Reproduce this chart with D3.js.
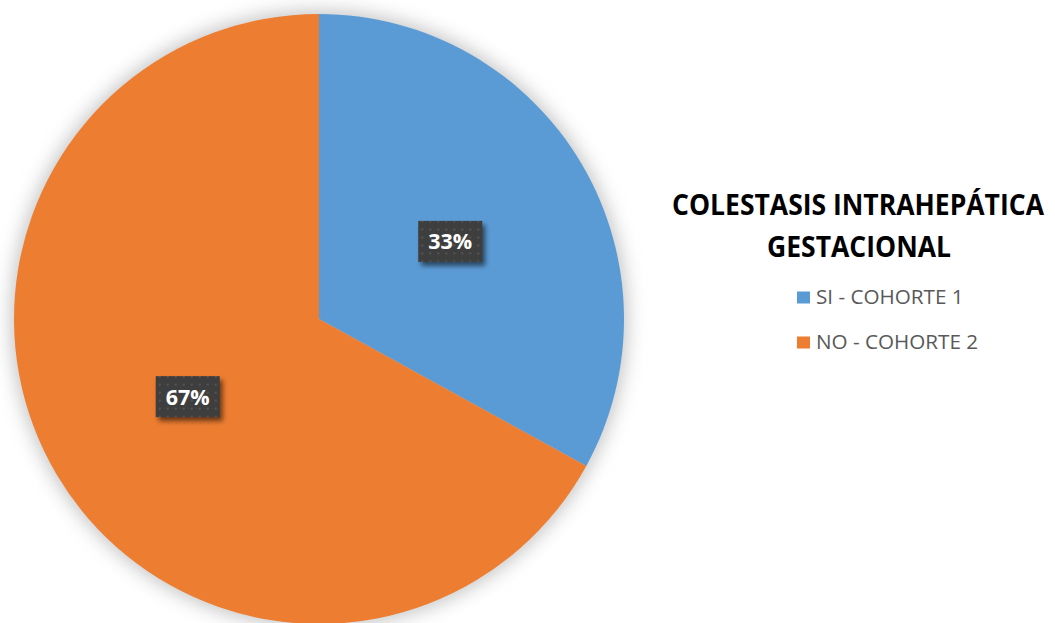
<!DOCTYPE html>
<html>
<head>
<meta charset="utf-8">
<script src="https://cdn.jsdelivr.net/npm/d3@7"></script>
<style>
  html, body { margin: 0; padding: 0; background: #ffffff; }
  svg { display: block; }
</style>
</head>
<body>
<svg id="chart" width="1055" height="623"></svg>
<script>
// Data
const categories = ["SI - COHORTE 1", "NO - COHORTE 2"];
const values = [33, 67];
const colors = ["#5B9BD5", "#ED7D31"];
const titleLines = ["COLESTASIS INTRAHEPÁTICA", "GESTACIONAL"];

const svg = d3.select("#chart");
const cx = 319, cy = 319, R = 305;

const defs = svg.append("defs");

// Soft shadow around the pie
const pieShadow = defs.append("filter").attr("id", "pieShadow")
  .attr("x", "-20%").attr("y", "-20%").attr("width", "140%").attr("height", "140%");
pieShadow.append("feGaussianBlur").attr("in", "SourceGraphic").attr("stdDeviation", 9);

// Shadow for label boxes
const boxShadow = defs.append("filter").attr("id", "boxShadow")
  .attr("x", "-30%").attr("y", "-30%").attr("width", "160%").attr("height", "160%");
boxShadow.append("feGaussianBlur").attr("in", "SourceGraphic").attr("stdDeviation", 2.5);

// Dotted texture for label boxes
const pat = defs.append("pattern").attr("id", "dots")
  .attr("width", 8).attr("height", 8).attr("patternUnits", "userSpaceOnUse");
pat.append("rect").attr("width", 8).attr("height", 8).attr("fill", "#3e3e3e");
pat.append("rect").attr("x", 3).attr("y", 3).attr("width", 2).attr("height", 2).attr("fill", "#545454");

// Pie
const pie = d3.pie().sort(null).value(d => d);
const arcs = pie(values);
const arc = d3.arc().innerRadius(0).outerRadius(R);
const labelArc = d3.arc().innerRadius(R * 0.5).outerRadius(R * 0.5);

const g = svg.append("g").attr("transform", `translate(${cx},${cy})`);

g.append("circle")
  .attr("r", R + 4)
  .attr("fill", "#c8c8c8")
  .attr("filter", "url(#pieShadow)");

g.selectAll("path.slice")
  .data(arcs)
  .join("path")
  .attr("class", "slice")
  .attr("d", arc)
  .attr("fill", (d, i) => colors[i]);

// Data labels
const bw = 64, bh = 41;
const lab = g.selectAll("g.label")
  .data(arcs)
  .join("g")
  .attr("class", "label")
  .attr("transform", d => {
    const [x, y] = labelArc.centroid(d);
    return `translate(${x},${y})`;
  });

lab.append("rect")
  .attr("x", -bw / 2 + 3).attr("y", -bh / 2 + 4)
  .attr("width", bw).attr("height", bh)
  .attr("fill", "rgba(0,0,0,0.55)")
  .attr("filter", "url(#boxShadow)");

lab.append("rect")
  .attr("x", -bw / 2).attr("y", -bh / 2)
  .attr("width", bw).attr("height", bh)
  .attr("fill", "url(#dots)");

lab.append("text")
  .attr("text-anchor", "middle")
  .attr("y", 8)
  .attr("font-family", "'Open Sans', sans-serif")
  .attr("font-weight", "bold")
  .attr("font-size", 21.5)
  .attr("fill", "#ffffff")
  .text(d => d.data + "%");

// Horizontally condense a text so it spans the given width around its anchor
function fitWidth(sel, x, y, width) {
  const len = sel.node().getComputedTextLength();
  sel.attr("x", 0).attr("y", 0)
    .attr("transform", `translate(${x},${y}) scale(${width / len},1)`);
}

// Title
const titleX = 858;
const titleWidths = [372, 184];
const titleBaselines = [215, 257];
titleLines.forEach((line, i) => {
  const t = svg.append("text")
    .attr("text-anchor", "middle")
    .attr("font-family", "'Open Sans', sans-serif")
    .attr("font-weight", "bold")
    .attr("font-size", 28)
    .attr("fill", "#000000")
    .text(line);
  fitWidth(t, titleX + i, titleBaselines[i], titleWidths[i]);
});

// Legend
const legendY = d3.scalePoint().domain(categories).range([304, 349]);
const leg = svg.selectAll("g.legend")
  .data(categories)
  .join("g")
  .attr("class", "legend")
  .attr("transform", d => `translate(797,${legendY(d)})`);

leg.append("rect")
  .attr("x", 0).attr("y", -12.5)
  .attr("width", 13).attr("height", 12)
  .attr("fill", (d, i) => colors[i]);

leg.append("text")
  .attr("font-family", "'Open Sans', sans-serif")
  .attr("font-size", 19.5)
  .attr("fill", "#595959")
  .text(d => d)
  .each(function () {
    const s = d3.select(this);
    fitWidth(s, 19, 0, this.getComputedTextLength() * 1.06);
  });
</script>
</body>
</html>
